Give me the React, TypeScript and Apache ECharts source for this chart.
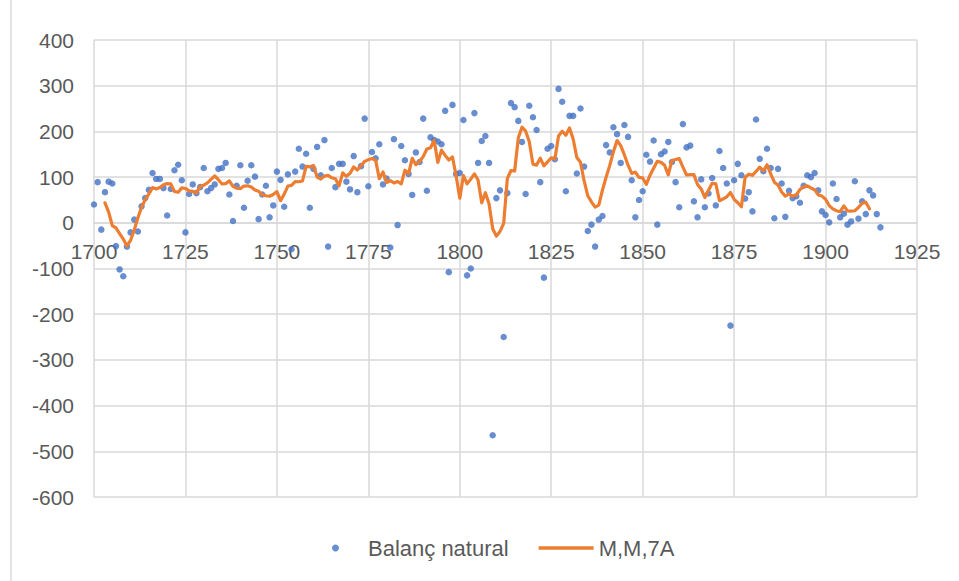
import React, { useEffect, useRef } from "react";
import * as echarts from "echarts";

// Balanç natural, one value per year from FIRST_YEAR
const FIRST_YEAR = 1700;
const balanc1700 = [
  40, 89, -15, 67, 90, 86, -51, -102, -117, -52,
  -21, 7, -19, 36, 54, 72, 109, 96, 96, 76,
  16, 74, 115, 127, 93, -21, 63, 84, 65, 78,
  120, 69, 76, 84, 118, 120, 131, 62, 4, 81,
  126, 33, 92, 126, 101, 8, 62, 81, 12, 38,
];
const balanc1750 = [
  112, 94, 35, 106, -58, 112, 162, 123, 151, 33,
  118, 166, 104, 181, -52, 120, 78, 129, 129, 90,
  73, 146, 67, 124, 228, 80, 155, 141, 172, 84,
  97, -54, 183, -5, 168, 137, 107, 61, 154, 133,
  228, 70, 187, 181, 178, 172, 245, -108, 258, 107,
];
const balanc1800 = [
  109, 225, -115, -100, 240, 131, 179, 190, 131, -465,
  54, 71, -250, 65, 262, 253, 223, 177, 63, 256,
  231, 203, 89, -120, 162, 168, 139, 293, 265, 69,
  234, 234, 108, 250, 123, -18, -4, -52, 7, 15,
  170, 154, 209, 194, 131, 214, 188, 93, 12, 50,
];
const balanc1850 = [
  69, 149, 134, 180, -4, 150, 156, 177, 133, 89,
  34, 216, 165, 169, 47, 12, 95, 34, 64, 98,
  38, 157, 120, 86, -225, 93, 129, 104, 53, 67,
  25, 226, 140, 113, 162, 120, 10, 118, 86, 13,
  70, 54, 58, 44, 81, 104, 100, 109, 71, 25,
];
const balanc1900 = [17, 1, 86, 52, 12, 20, -4, 3, 91, 9, 47, 19, 71, 60, 19, -10];

const MA_WINDOW = 7; // "M,M,7A": centred 7-year moving average of the same data

const xTicks = { min: 1700, max: 1925, interval: 25 };
const yTicks = { min: -600, max: 400, interval: 100 };

const SERIES_POINTS = "Balanç natural";
const SERIES_MA = "M,M,7A";

const FONT = "'Liberation Sans', Arial, sans-serif";

export default function App() {
  const ref = useRef<HTMLDivElement>(null);

  useEffect(() => {
    if (!ref.current) return;
    const chart = echarts.init(ref.current, undefined, { renderer: "svg" });

    const values = [...balanc1700, ...balanc1750, ...balanc1800, ...balanc1850, ...balanc1900];
    const points = values.map((v, i) => [FIRST_YEAR + i, v]);
    const half = Math.floor(MA_WINDOW / 2);
    const ma: number[][] = [];
    for (let i = half; i < values.length - half; i++) {
      let s = 0;
      for (let k = i - half; k <= i + half; k++) s += values[k];
      ma.push([FIRST_YEAR + i, s / MA_WINDOW]);
    }

    const gridTop = 40;
    const gridBottom = 84;
    const gridHeight = 581 - gridTop - gridBottom;
    // place the horizontal axis (line + labels) where y = 0, as in the reference
    const zeroOffset = -gridHeight * (0 - yTicks.min) / (yTicks.max - yTicks.min);

    const grid = "#D9D9D9";
    const label = "#595959";

    chart.setOption({
      animation: false,
      backgroundColor: "#ffffff",
      grid: { left: 94, right: 42, top: gridTop, bottom: gridBottom, containLabel: false },
      xAxis: {
        type: "value",
        min: xTicks.min,
        max: xTicks.max,
        interval: xTicks.interval,
        offset: zeroOffset,
        axisLine: { show: true, onZero: false, lineStyle: { color: grid, width: 1.5 } },
        axisTick: { show: false },
        axisLabel: {
          color: label,
          fontSize: 21,
          fontFamily: FONT,
          margin: 18,
          formatter: (v: number) => String(v),
        },
        splitLine: { show: true, lineStyle: { color: grid, width: 1.5 } },
      },
      yAxis: {
        type: "value",
        min: yTicks.min,
        max: yTicks.max,
        interval: yTicks.interval,
        axisLine: { show: false },
        axisTick: { show: false },
        axisLabel: { color: label, fontSize: 21, fontFamily: FONT, margin: 20 },
        splitLine: { show: true, lineStyle: { color: grid, width: 1.5 } },
      },
      legend: {
        left: 327,
        top: 532,
        itemWidth: 55,
        itemHeight: 7,
        itemGap: 30,
        symbolKeepAspect: true,
        textStyle: { color: label, fontSize: 22, fontFamily: FONT },
        data: [
          { name: SERIES_POINTS, icon: "circle" },
          { name: SERIES_MA, icon: "path://M0 0H55V3.4H0Z" },
        ],
      },
      graphic: [
        {
          type: "line",
          shape: { x1: 11, y1: 0, x2: 11, y2: 581 },
          style: { stroke: grid, lineWidth: 1.5 },
        },
      ],
      series: [
        {
          name: SERIES_POINTS,
          type: "scatter",
          data: points,
          symbol: "circle",
          symbolSize: 6.5,
          itemStyle: { color: "#4472C4" },
        },
        {
          name: SERIES_MA,
          type: "line",
          data: ma,
          symbol: "none",
          showSymbol: false,
          smooth: false,
          lineStyle: { color: "#ED7D31", width: 3.2, cap: "round", join: "round" },
          itemStyle: { color: "#ED7D31" },
        },
      ],
    });

    return () => chart.dispose();
  }, []);

  return (
    <div
      ref={ref}
      style={{ position: "fixed", left: 0, top: 0, width: 959, height: 581, background: "#fff" }}
    />
  );
}
